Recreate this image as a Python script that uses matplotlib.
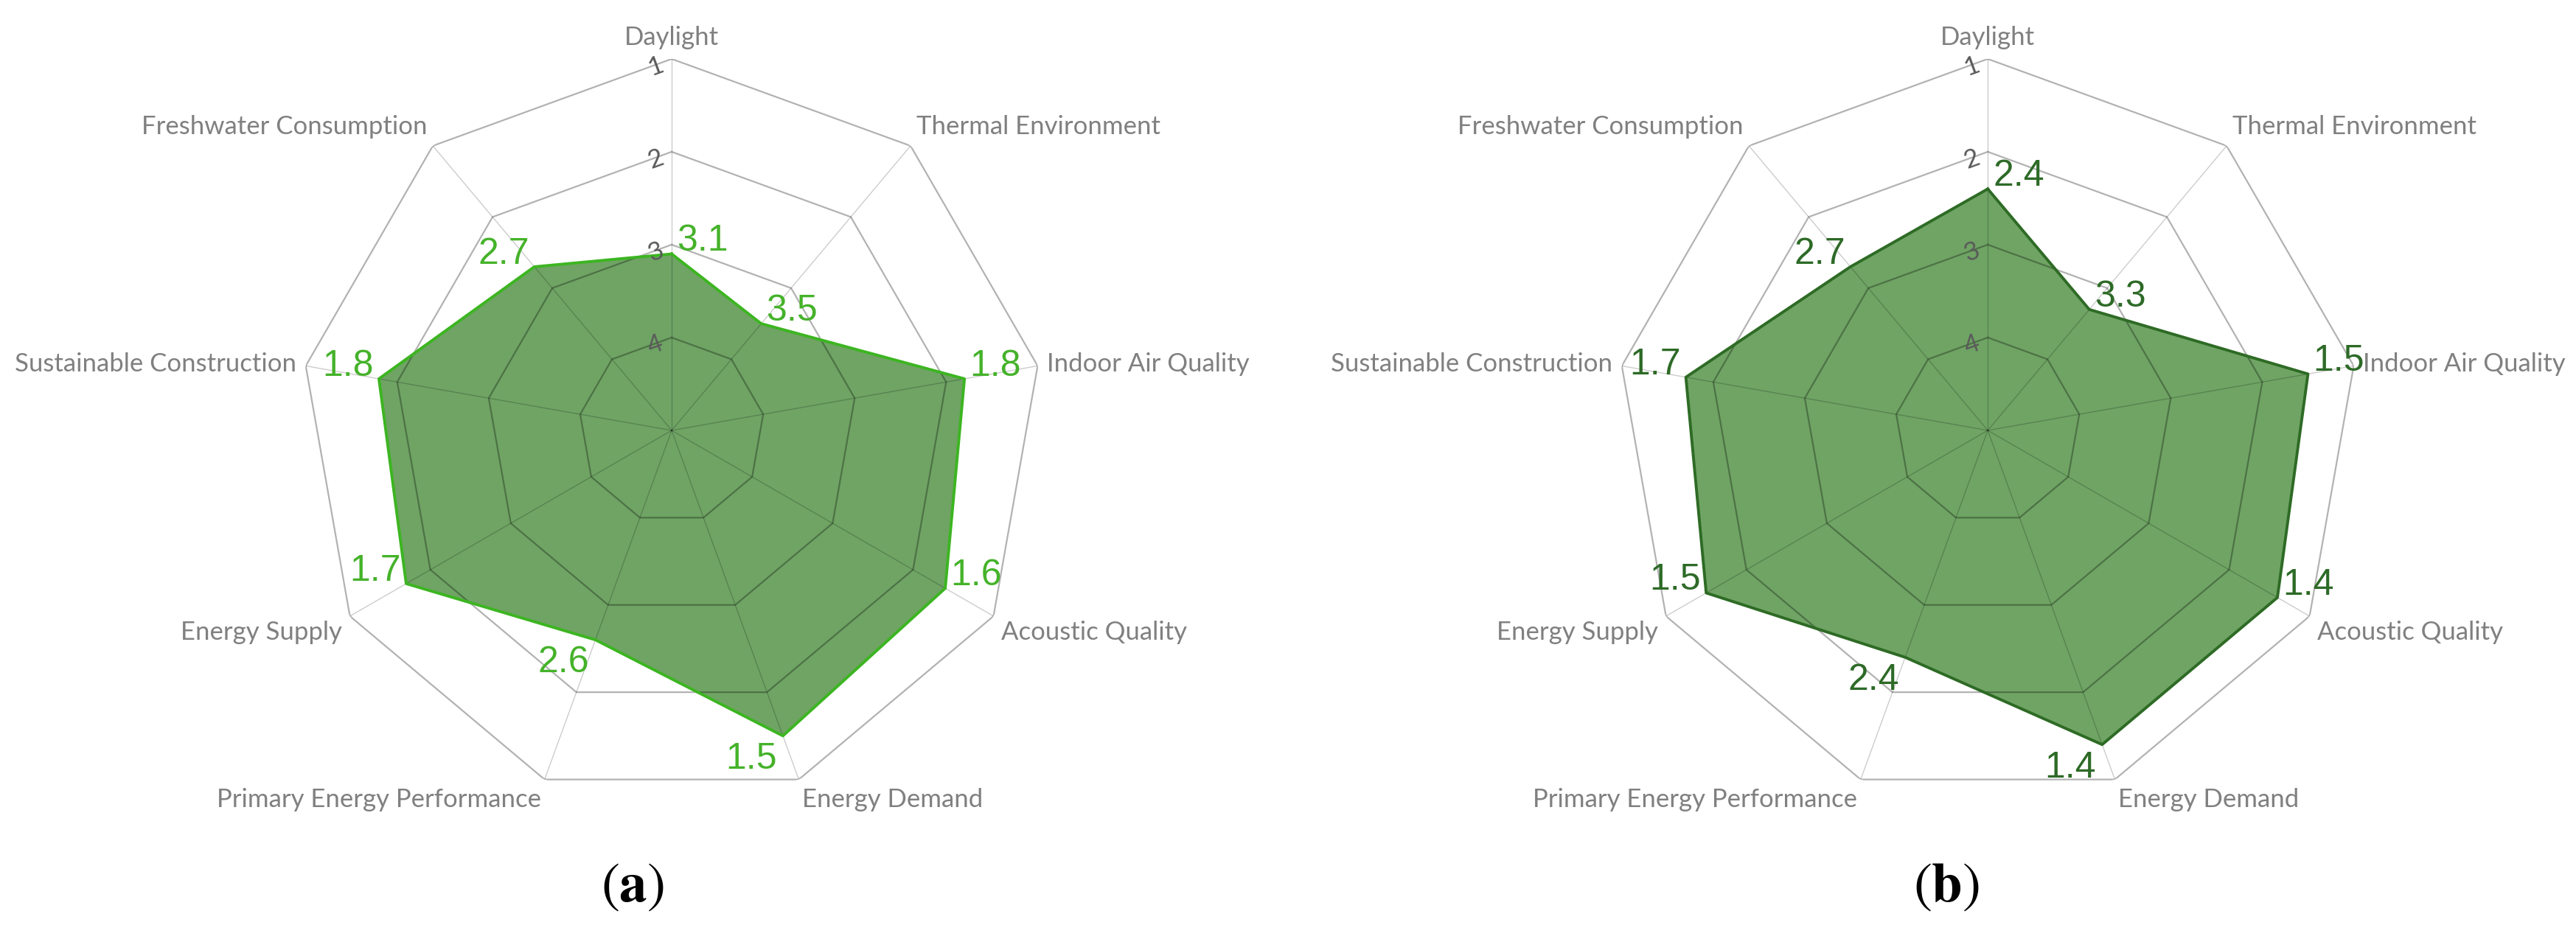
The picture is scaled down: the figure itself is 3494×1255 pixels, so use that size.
import numpy as np
import matplotlib.pyplot as plt

# Data (scale 1 = best at the rim, 5 = centre)
categories = ['Daylight', 'Thermal Environment', 'Indoor Air Quality', 'Acoustic Quality',
              'Energy Demand', 'Primary Energy Performance', 'Energy Supply',
              'Sustainable Construction', 'Freshwater Consumption']
scores_a = [3.1, 3.5, 1.8, 1.6, 1.5, 2.6, 1.7, 1.8, 2.7]
scores_b = [2.4, 3.3, 1.5, 1.4, 1.4, 2.4, 1.5, 1.7, 2.7]
rings = [1, 2, 3, 4]
panel_labels = ['a', 'b']

plt.rcParams['mathtext.fontset'] = 'stix'

fig = plt.figure(figsize=(34.94, 12.55), dpi=100)


def radar(ax, scores, edge_col, text_col):
    n = len(categories)
    ang = np.linspace(0, 2 * np.pi, n, endpoint=False)
    closed = np.append(ang, ang[0])

    vals = np.append(scores, scores[0])
    ax.fill(closed, vals, color='#327e22', alpha=0.7, lw=0, zorder=1)

    # polygon grid drawn semi-transparent on top, so it darkens inside the fill
    for r in rings:
        ax.plot(closed, [r] * (n + 1), color='black', alpha=0.3, lw=1.6, zorder=2)
    for a in ang:
        ax.plot([a, a], [5, 1], color='black', alpha=0.2, lw=1.0, zorder=2)

    ax.plot(closed, vals, color=edge_col, lw=2.8, zorder=3)

    # ring numbers along the top spoke
    for r in rings:
        ax.annotate(str(r), xy=(0, r), xytext=(-5, -7), textcoords='offset points',
                    ha='right', va='center', rotation=20, fontsize=25,
                    color='#5a5a5a', family='Lato', zorder=4)

    # category names outside the rim
    for a, name in zip(ang, categories):
        s, c = np.sin(a), np.cos(a)
        ha = 'center' if abs(s) < 0.1 else ('left' if s > 0 else 'right')
        if c > 0.5:
            va = 'bottom'
        elif c < -0.3:
            va = 'top'
        else:
            va = 'center'
        ax.annotate(name, xy=(a, 1), xytext=(9 * s, 9 * c), textcoords='offset points',
                    ha=ha, va=va, fontsize=25, color='#808080', family='Lato',
                    annotation_clip=False)

    # value labels at each vertex
    for a, v in zip(ang, scores):
        s, c = np.sin(a), np.cos(a)
        if c < -0.8:
            ha, va, off = 'right', 'top', (-6, -6)
        elif s >= 0:
            ha, va, off = 'left', 'baseline', (5, 3)
        else:
            ha, va, off = 'right', 'baseline', (-5, 3)
        ax.annotate(f'{v:.1f}', xy=(a, v), xytext=off, textcoords='offset points',
                    ha=ha, va=va, fontsize=36, color=text_col,
                    family='Liberation Sans', zorder=5)

    ax.set_theta_zero_location('N')
    ax.set_theta_direction(-1)
    ax.set_ylim(5, 1)
    ax.set_xticks([])
    ax.set_yticks([])
    ax.grid(False)
    ax.spines['polar'].set_visible(False)
    ax.patch.set_visible(False)


ax1 = fig.add_axes([0.1165, 0.1331, 0.2885, 0.8032], projection='polar')
radar(ax1, scores_a, '#3cb521', '#45b22a')
ax2 = fig.add_axes([0.6274, 0.1331, 0.2885, 0.8032], projection='polar')
radar(ax2, scores_b, '#2e6b25', '#2d6a27')

for x, lab in zip([0.2456, 0.7556], panel_labels):
    fig.text(x, 0.040, '($\\mathbf{' + lab + '}$)', ha='center', va='center',
             fontsize=54, family='STIXGeneral')

plt.savefig('out.png', dpi=100)
plt.close()
